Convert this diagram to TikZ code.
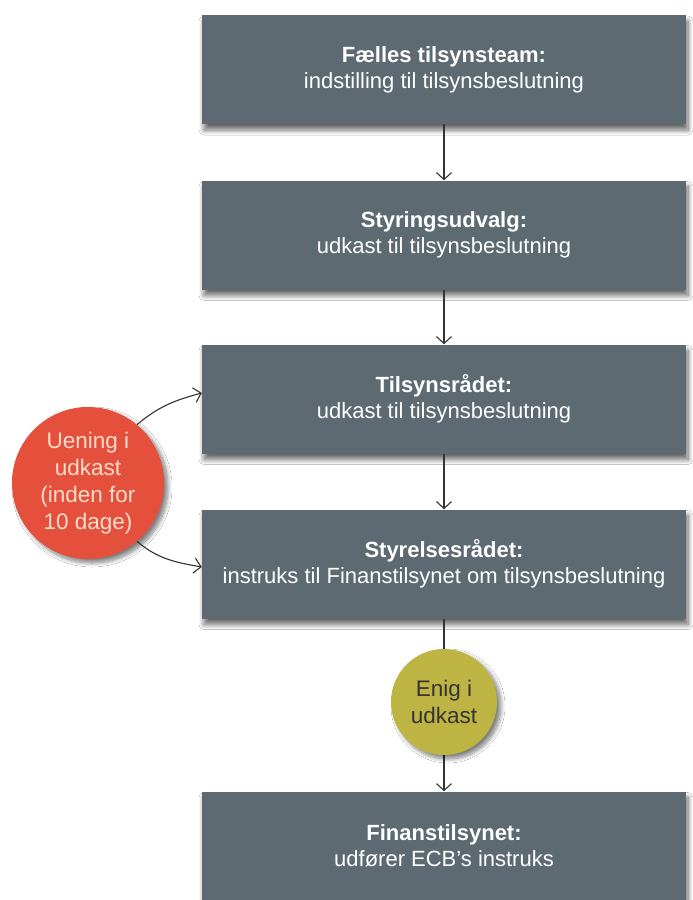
\documentclass[tikz,border=0pt]{standalone}
\usepackage{fontspec}
\setmainfont{Liberation Sans}
\usetikzlibrary{arrows.meta,shadows.blur}
\definecolor{boxgray}{HTML}{5E6A72}
\definecolor{redc}{HTML}{E4503C}
\definecolor{olivec}{HTML}{BDB444}
\definecolor{redtext}{HTML}{FADCCB}
\definecolor{arrowc}{HTML}{333333}
\tikzset{
  stagebox/.style={fill=boxgray, minimum width=484pt, minimum height=109pt,
    inner sep=0pt, text=white, align=center,
    font=\fontsize{22}{26}\selectfont,
    blur shadow={shadow xshift=2pt, shadow yshift=-6pt, shadow blur steps=10, shadow blur radius=5pt, shadow opacity=60}},
  redcirc/.style={circle, fill=redc, minimum size=152pt, inner sep=0pt,
    text=redtext, align=center, font=\fontsize{22.5}{27}\selectfont,
    blur shadow={shadow xshift=4pt, shadow yshift=-4pt, shadow blur steps=10, shadow blur radius=4pt, shadow opacity=50}},
  olivecirc/.style={circle, fill=olivec, minimum size=106pt, inner sep=0pt,
    text=black!80, align=center, font=\fontsize{22.5}{27}\selectfont,
    blur shadow={shadow xshift=4pt, shadow yshift=-4pt, shadow blur steps=10, shadow blur radius=4pt, shadow opacity=50}},
  flow/.style={draw=arrowc, line width=1.1pt, -{Straight Barb[length=7pt,width=15pt,line width=1.1pt]}}
}
\begin{document}
\begin{tikzpicture}[x=1pt,y=1pt]
\useasboundingbox[fill=white] (0,0) rectangle (693,-900);
\node[stagebox] (b1) at (444,-69.5) {\textbf{Fælles tilsynsteam:}\\indstilling til tilsynsbeslutning};
\node[stagebox] (b2) at (444,-235) {\textbf{Styringsudvalg:}\\udkast til tilsynsbeslutning};
\node[stagebox] (b3) at (444,-399) {\textbf{Tilsynsrådet:}\\udkast til tilsynsbeslutning};
\node[stagebox] (b4) at (444,-564) {\textbf{Styrelsesrådet:}\\instruks til Finanstilsynet om tilsynsbeslutning};
\node[stagebox] (b5) at (444,-846) {\textbf{Finanstilsynet:}\\udfører ECB’s instruks};
\draw[flow] (b1.south) -- (b2.north);
\draw[flow] (b2.south) -- (b3.north);
\draw[flow] (b3.south) -- (b4.north);
\draw[flow] (b4.south) -- (b5.north);
\node[redcirc] (red) at (88,-483) {Uening i\\udkast\\(inden for\\10 dage)};
\node[olivecirc] (olive) at (444,-702) {Enig i\\udkast};
\draw[flow] (red.50) to[out=40,in=195] ([yshift=6pt]b3.west);
\draw[flow] (red.-50) to[out=-40,in=170] ([yshift=-3pt]b4.west);
\end{tikzpicture}
\end{document}
